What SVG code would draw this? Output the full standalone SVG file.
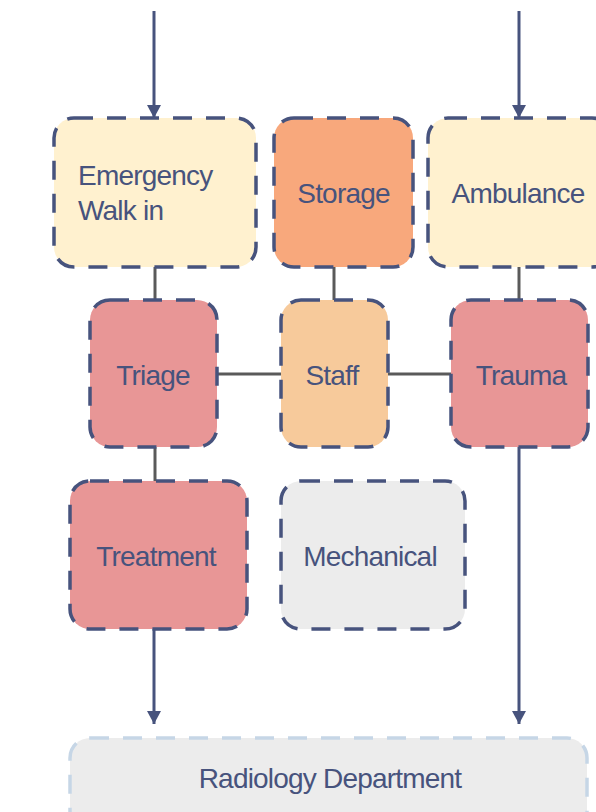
<svg xmlns="http://www.w3.org/2000/svg" width="596" height="812" viewBox="0 0 596 812">
<defs>
<style>
.box{stroke:#47537d;stroke-width:3.5;stroke-dasharray:19 14;}
.lbl{font-family:"Liberation Sans",Arial,sans-serif;font-size:28px;letter-spacing:-0.8px;fill:#47537d;}
.mid{text-anchor:middle;}
.link{stroke:#5a5a5a;stroke-width:3;fill:none;}
.flow{stroke:#47537d;stroke-width:3;fill:none;marker-end:url(#ah);}
</style>
<marker id="ah" markerUnits="userSpaceOnUse" markerWidth="14" markerHeight="14" refX="13" refY="7" orient="auto">
<path d="M0,0 L13,7 L0,14 Z" fill="#47537d"/>
</marker>
</defs>
<rect width="596" height="812" fill="#ffffff"/>
<g id="connectors">
<line class="link" x1="155" y1="267" x2="155" y2="300"/>
<line class="link" x1="334" y1="267" x2="334" y2="300"/>
<line class="link" x1="519" y1="267" x2="519" y2="300"/>
<line class="link" x1="155" y1="447" x2="155" y2="481"/>
<line class="link" x1="217" y1="374" x2="281" y2="374"/>
<line class="link" x1="388" y1="374" x2="451" y2="374"/>
<line class="flow" x1="154" y1="11" x2="154" y2="118"/>
<line class="flow" x1="519" y1="11" x2="519" y2="118"/>
<line class="flow" x1="154" y1="629" x2="154" y2="724"/>
<line class="flow" x1="519" y1="447" x2="519" y2="724"/>
</g>
<g id="emergency">
<rect class="box" x="54" y="118" width="202" height="149" rx="20" fill="#fff1cf"/>
<text class="lbl" x="78" y="185">Emergency</text>
<text class="lbl" x="78" y="220">Walk in</text>
</g>
<g id="storage">
<rect class="box" x="274" y="118" width="139" height="149" rx="20" fill="#f8a87c"/>
<text class="lbl mid" x="343.5" y="203">Storage</text>
</g>
<g id="ambulance">
<rect class="box" x="428" y="118" width="184" height="149" rx="20" fill="#fff1cf"/>
<text class="lbl mid" x="518" y="203">Ambulance</text>
</g>
<g id="triage">
<rect class="box" x="90" y="300" width="127" height="147" rx="20" fill="#e89696"/>
<text class="lbl mid" x="153" y="385">Triage</text>
</g>
<g id="staff">
<rect class="box" x="281" y="300" width="107" height="147" rx="20" fill="#f7ca9b"/>
<text class="lbl mid" x="332" y="385">Staff</text>
</g>
<g id="trauma">
<rect class="box" x="451" y="300" width="137" height="147" rx="20" fill="#e89696"/>
<text class="lbl mid" x="521" y="385">Trauma</text>
</g>
<g id="treatment">
<rect class="box" x="70" y="481" width="177" height="148" rx="20" fill="#e89696"/>
<text class="lbl mid" x="156" y="566">Treatment</text>
</g>
<g id="mechanical">
<rect class="box" x="281" y="481" width="184" height="148" rx="20" fill="#ececec"/>
<text class="lbl mid" x="370" y="566">Mechanical</text>
</g>
<g id="radiology">
<rect x="70" y="738" width="517" height="95" rx="20" fill="#ececec" stroke="#c6d6e6" stroke-width="3.5" stroke-dasharray="19 14"/>
<text class="lbl mid" x="330" y="788">Radiology Department</text>
</g>
</svg>
